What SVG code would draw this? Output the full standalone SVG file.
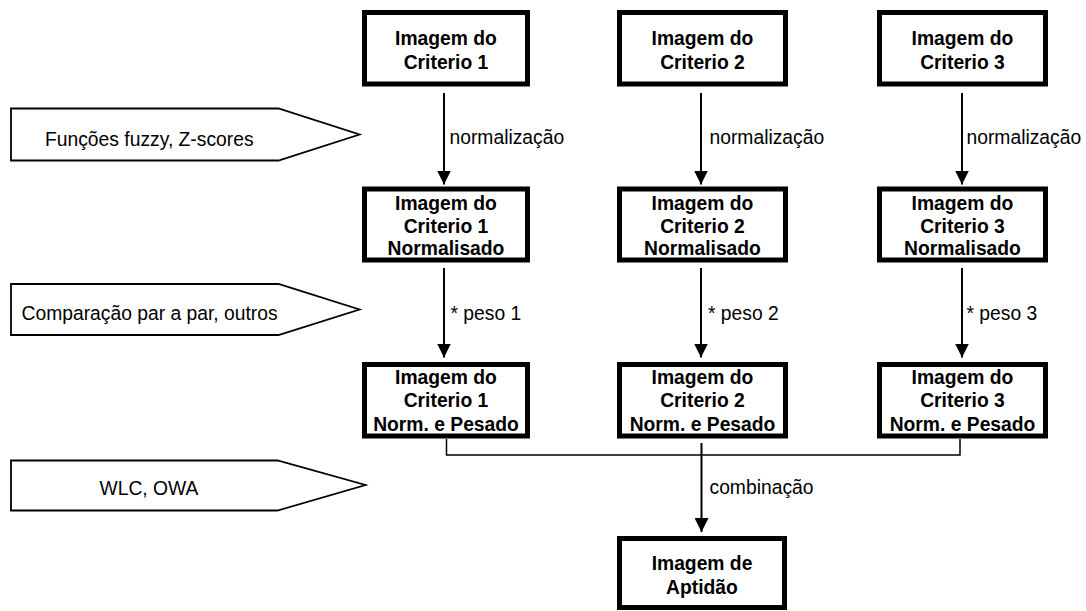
<svg xmlns="http://www.w3.org/2000/svg" width="1086" height="611" viewBox="0 0 1086 611">
<defs>
<style>
.box{fill:#fff;stroke:#000;stroke-width:5}
.tag{fill:#fff;stroke:#000;stroke-width:1.8;stroke-linejoin:miter}
.bt{font-family:"Liberation Sans",Arial,sans-serif;font-weight:bold;font-size:19.3px;text-anchor:middle;fill:#000}
.lt{font-family:"Liberation Sans",Arial,sans-serif;font-size:19.3px;fill:#000}
.ln{fill:none;stroke:#000;stroke-width:2}
.br{fill:none;stroke:#000;stroke-width:1.5}
</style>
<marker id="ah" viewBox="0 0 14 14" refX="14" refY="7" markerWidth="14" markerHeight="14" markerUnits="userSpaceOnUse" orient="auto">
<path d="M0,0 L14,7 L0,14 Z" fill="#000"/>
</marker>
</defs>
<rect width="1086" height="611" fill="#fff"/>

<g id="tag1">
<path class="tag" d="M11,108.5 H278.5 L359.5,134.5 L278.5,160.5 H11 Z"/>
<text class="lt" x="45" y="146">Funções fuzzy, Z-scores</text>
</g>
<g id="tag2">
<path class="tag" d="M11,284 H278.5 L359.5,309.5 L278.5,335 H11 Z"/>
<text class="lt" x="21.5" y="319.5">Comparação par a par, outros</text>
</g>
<g id="tag3">
<path class="tag" d="M11,460.5 H277.5 L365.5,485 L277.5,510.5 H11 Z"/>
<text class="lt" x="99.5" y="495">WLC, OWA</text>
</g>

<g id="c1r1"><rect class="box" x="364.5" y="12.5" width="163" height="71.5"/>
<text class="bt" x="446" y="45">Imagem do</text><text class="bt" x="446" y="68.5">Criterio 1</text></g>
<g id="c2r1"><rect class="box" x="619.5" y="12.5" width="166" height="71.5"/>
<text class="bt" x="702.5" y="45">Imagem do</text><text class="bt" x="702.5" y="68.5">Criterio 2</text></g>
<g id="c3r1"><rect class="box" x="879.5" y="12.5" width="166" height="71.5"/>
<text class="bt" x="962.5" y="45">Imagem do</text><text class="bt" x="962.5" y="68.5">Criterio 3</text></g>

<g id="c1r2"><rect class="box" x="364.5" y="189" width="163" height="71"/>
<text class="bt" x="446" y="210">Imagem do</text><text class="bt" x="446" y="232.5">Criterio 1</text><text class="bt" x="446" y="255">Normalisado</text></g>
<g id="c2r2"><rect class="box" x="619.5" y="189" width="166" height="71"/>
<text class="bt" x="702.5" y="210">Imagem do</text><text class="bt" x="702.5" y="232.5">Criterio 2</text><text class="bt" x="702.5" y="255">Normalisado</text></g>
<g id="c3r2"><rect class="box" x="879.5" y="189" width="166" height="71"/>
<text class="bt" x="962.5" y="210">Imagem do</text><text class="bt" x="962.5" y="232.5">Criterio 3</text><text class="bt" x="962.5" y="255">Normalisado</text></g>

<g id="c1r3"><rect class="box" x="364.5" y="364.5" width="163" height="71.5"/>
<text class="bt" x="446" y="383.5">Imagem do</text><text class="bt" x="446" y="407">Criterio 1</text><text class="bt" x="446" y="430.5">Norm. e Pesado</text></g>
<g id="c2r3"><rect class="box" x="619.5" y="364.5" width="166" height="71.5"/>
<text class="bt" x="702.5" y="383.5">Imagem do</text><text class="bt" x="702.5" y="407">Criterio 2</text><text class="bt" x="702.5" y="430.5">Norm. e Pesado</text></g>
<g id="c3r3"><rect class="box" x="879.5" y="364.5" width="166" height="71.5"/>
<text class="bt" x="962.5" y="383.5">Imagem do</text><text class="bt" x="962.5" y="407">Criterio 3</text><text class="bt" x="962.5" y="430.5">Norm. e Pesado</text></g>

<g id="final"><rect class="box" x="619.5" y="538.5" width="165" height="69"/>
<text class="bt" x="702" y="570">Imagem de</text><text class="bt" x="702" y="593.5">Aptidão</text></g>

<g id="connectors">
<line class="ln" x1="444" y1="93" x2="444" y2="184.5" marker-end="url(#ah)"/>
<line class="ln" x1="701" y1="93" x2="701" y2="184.5" marker-end="url(#ah)"/>
<line class="ln" x1="962" y1="93" x2="962" y2="184.5" marker-end="url(#ah)"/>
<line class="ln" x1="444" y1="268" x2="444" y2="357.5" marker-end="url(#ah)"/>
<line class="ln" x1="701" y1="268" x2="701" y2="357.5" marker-end="url(#ah)"/>
<line class="ln" x1="962" y1="268" x2="962" y2="357.5" marker-end="url(#ah)"/>
<path class="br" d="M446.5,439 V455 H960 V439"/>
<line class="ln" x1="701.5" y1="443" x2="701.5" y2="532" marker-end="url(#ah)"/>
<text class="lt" x="449.5" y="143.5">normalização</text>
<text class="lt" x="709.5" y="143.5">normalização</text>
<text class="lt" x="966.5" y="143.5">normalização</text>
<text class="lt" x="450.5" y="319.5">* peso 1</text>
<text class="lt" x="708" y="319.5">* peso 2</text>
<text class="lt" x="966.5" y="319.5">* peso 3</text>
<text class="lt" x="709.5" y="494">combinação</text>
</g>
</svg>
